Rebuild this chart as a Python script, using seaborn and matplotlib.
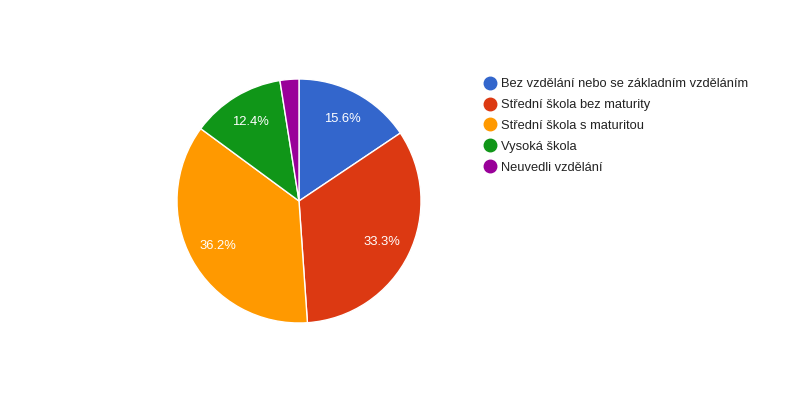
import matplotlib
matplotlib.use("Agg")
import matplotlib.pyplot as plt
from matplotlib.lines import Line2D
import seaborn as sns

# Data
categories = [
    "Bez vzdělání nebo se základním vzděláním",
    "Střední škola bez maturity",
    "Střední škola s maturitou",
    "Vysoká škola",
    "Neuvedli vzdělání",
]
shares = [15.6, 33.3, 36.2, 12.4, 2.5]
colors = ["#3366cc", "#dc3912", "#ff9900", "#109618", "#990099"]

sns.set_theme(style="white")
plt.rcParams['font.family'] = ['Liberation Sans', 'DejaVu Sans']
palette = sns.color_palette(colors)

fig = plt.figure(figsize=(8, 4), dpi=100)
fig.patch.set_facecolor("white")

# pie centred at (299, 201) px with radius ~122 px
r_px = 122
cx, cy = 299, 201
ax = fig.add_axes([(cx - r_px) / 800, (400 - cy - r_px) / 400, 2 * r_px / 800, 2 * r_px / 400])

def fmt(p):
    return f"{p:.1f}%" if p >= 5 else ""

wedges, texts, autotexts = ax.pie(
    shares,
    colors=palette,
    startangle=90,
    counterclock=False,
    autopct=fmt,
    pctdistance=0.76,
    wedgeprops=dict(edgecolor="white", linewidth=1),
    textprops=dict(color="white", fontsize=9.4),
)
ax.set_xlim(-1, 1)
ax.set_ylim(-1, 1)
ax.set_aspect("equal")
ax.axis("off")

handles = [
    Line2D([0], [0], marker="o", linestyle="", markersize=9,
           markerfacecolor=c, markeredgecolor=c)
    for c in palette
]
fig.legend(
    handles, categories,
    loc="upper left",
    bbox_to_anchor=(480 / 800, 1 - 73 / 400),
    frameon=False,
    fontsize=9.25,
    handlelength=0.8,
    handletextpad=0.45,
    labelspacing=0.69,
    borderaxespad=0,
    labelcolor="#222222",
)

fig.savefig("out.png", dpi=100, facecolor="white")
